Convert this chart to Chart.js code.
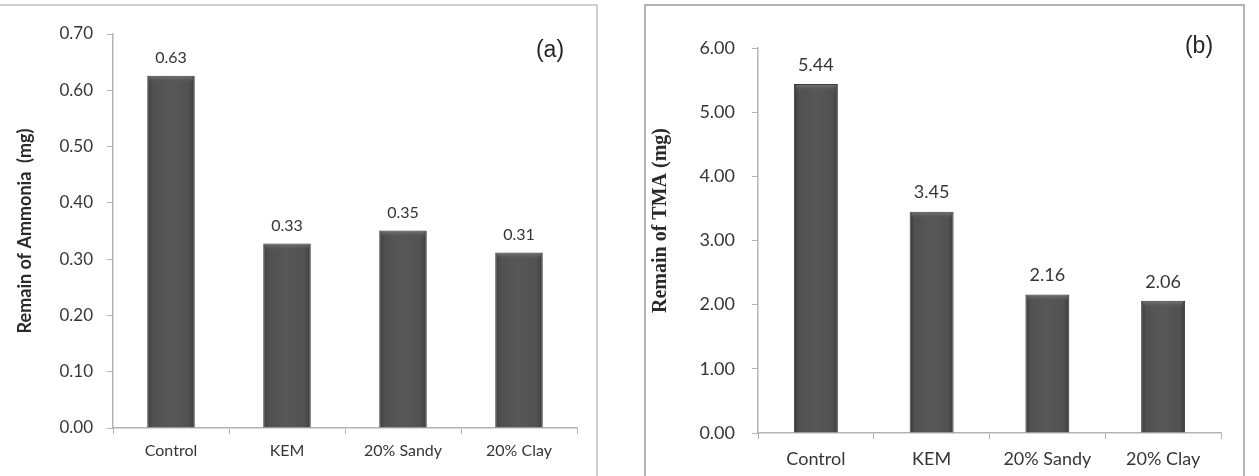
<!DOCTYPE html>
<html>
<head>
<meta charset="utf-8">
<script src="https://cdn.jsdelivr.net/npm/chart.js@4"></script>
<style>
  html, body { margin: 0; padding: 0; background: #fff; }
  body { width: 1259px; height: 476px; position: relative; overflow: hidden; }
  .frame { position: absolute; box-sizing: border-box; }
  #frameA { left: -4px; top: 4px; width: 602px; height: 490px; border: 2px solid #cfcfcf; }
  #frameB { left: 644px; top: 4px; width: 601px; height: 490px; border: 2px solid #b4b4b4; }
  .wrap { position: absolute; top: 0; height: 476px; }
  #wrapA { left: 0; width: 600px; }
  #wrapB { left: 630px; width: 629px; }
  .tag { position: absolute; font-family: "Liberation Sans", Arial, sans-serif; font-size: 23px; color: #262626; transform: translate(-50%, -50%); }
</style>
</head>
<body>
<div class="frame" id="frameA"></div>
<div class="frame" id="frameB"></div>
<div class="wrap" id="wrapA"><canvas id="chartA"></canvas></div>
<div class="wrap" id="wrapB"><canvas id="chartB"></canvas></div>
<div class="tag" style="left:550px; top:49px;">(a)</div>
<div class="tag" style="left:1199px; top:45px;">(b)</div>
<script>
// ─── data ─────────────────────────────────────────────
const categories = ['Control', 'KEM', '20% Sandy', '20% Clay'];
const ammonia = [0.626, 0.328, 0.351, 0.312];
const tma = [5.44, 3.45, 2.16, 2.06];
const ammoniaTicks = [0, 0.1, 0.2, 0.3, 0.4, 0.5, 0.6, 0.7];
const tmaTicks = [0, 1, 2, 3, 4, 5, 6];

const textCol = '#363636';
const axisCol = '#b3b3b3';

// horizontal shading across each bar
function barFill(pct) {
  return function(ctx) {
    const chart = ctx.chart;
    const xs = chart.scales && chart.scales.x;
    if (!xs || ctx.dataIndex === undefined || !xs.width) return '#4f4f4f';
    const cx = xs.getPixelForValue(ctx.dataIndex);
    const half = xs.width / categories.length * pct / 2;
    const g = chart.ctx.createLinearGradient(cx - half, 0, cx + half, 0);
    g.addColorStop(0, '#3a3a3a');
    g.addColorStop(0.12, '#515151');
    g.addColorStop(0.5, '#575757');
    g.addColorStop(0.88, '#515151');
    g.addColorStop(1, '#3a3a3a');
    return g;
  };
}

// value labels above bars + light top bevel
const valueLabels = {
  id: 'valueLabels',
  afterDatasetsDraw(chart, args, opts) {
    const ctx = chart.ctx;
    const meta = chart.getDatasetMeta(0);
    const data = chart.data.datasets[0].data;
    ctx.save();
    meta.data.forEach((bar, i) => {
      const w = bar.width;
      const g = ctx.createLinearGradient(0, bar.y, 0, bar.y + 7);
      g.addColorStop(0, '#7a7a7a');
      g.addColorStop(1, 'rgba(85,85,85,0)');
      ctx.fillStyle = g;
      ctx.fillRect(bar.x - w / 2 + 2, bar.y + 1, w - 4, 7);

      ctx.fillStyle = textCol;
      ctx.font = opts.font;
      ctx.textAlign = 'center';
      ctx.textBaseline = 'middle';
      ctx.fillText(data[i].toFixed(2), bar.x, bar.y - opts.gap);
    });
    ctx.restore();
  }
};

function makeChart(id, values, tickVals, cfg) {
  return new Chart(document.getElementById(id), {
    type: 'bar',
    data: {
      labels: categories,
      datasets: [{
        data: values,
        backgroundColor: barFill(cfg.barPct),
        borderColor: '#3a3a3a',
        borderWidth: 1,
        barPercentage: cfg.barPct,
        categoryPercentage: 1
      }]
    },
    options: {
      responsive: true,
      maintainAspectRatio: false,
      animation: false,
      layout: { padding: cfg.padding },
      plugins: {
        legend: { display: false },
        tooltip: { enabled: false },
        valueLabels: { font: cfg.valueFont, gap: cfg.valueGap }
      },
      scales: {
        x: {
          grid: { display: true, offset: true, drawOnChartArea: false, tickLength: 6, color: axisCol },
          border: { color: axisCol, width: 1.5 },
          ticks: { color: textCol, font: cfg.xFont, padding: cfg.xPad },
          afterFit: s => { s.height = cfg.xHeight; }
        },
        y: {
          min: 0,
          max: tickVals[tickVals.length - 1],
          afterBuildTicks: s => { s.ticks = tickVals.map(v => ({ value: v })); },
          grid: { drawOnChartArea: false, tickLength: 6, color: axisCol },
          border: { color: axisCol, width: 1.5 },
          ticks: { color: textCol, font: cfg.tickFont, padding: cfg.yPad, callback: v => Number(v).toFixed(2) },
          title: { display: true, text: cfg.title, color: '#2a2a2a', font: cfg.titleFont, padding: { top: cfg.titlePad, bottom: 0 } },
          afterFit: s => { s.width = cfg.yWidth; }
        }
      }
    },
    plugins: [valueLabels]
  });
}

makeChart('chartA', ammonia, ammoniaTicks, {
  barPct: 0.41,
  padding: { left: 6, top: 34, right: 23, bottom: 0 },
  yWidth: 107,
  xHeight: 48,
  xPad: 7,
  yPad: 14,
  tickFont: { family: 'Lato', size: 17 },
  xFont: { family: 'Lato', size: 16 },
  valueFont: '16px Lato',
  valueGap: 18,
  title: 'Remain of Ammonia  (mg)',
  titleFont: { family: 'Lato', size: 18, weight: 'bold' },
  titlePad: 8
});

// leading spaces nudge the rotated title upward, as in the source figure
makeChart('chartB', tma, tmaTicks, {
  barPct: 0.38,
  padding: { left: 11, top: 48, right: 38, bottom: 0 },
  yWidth: 117,
  xHeight: 43,
  xPad: 9,
  yPad: 17,
  tickFont: { family: 'Lato', size: 18 },
  xFont: { family: 'Lato', size: 18 },
  valueFont: '18px Lato',
  valueGap: 19,
  title: '        Remain of TMA (mg)',
  titleFont: { family: '"Liberation Serif", "Times New Roman", serif', size: 20, weight: 'bold' },
  titlePad: 8
});
</script>
</body>
</html>
